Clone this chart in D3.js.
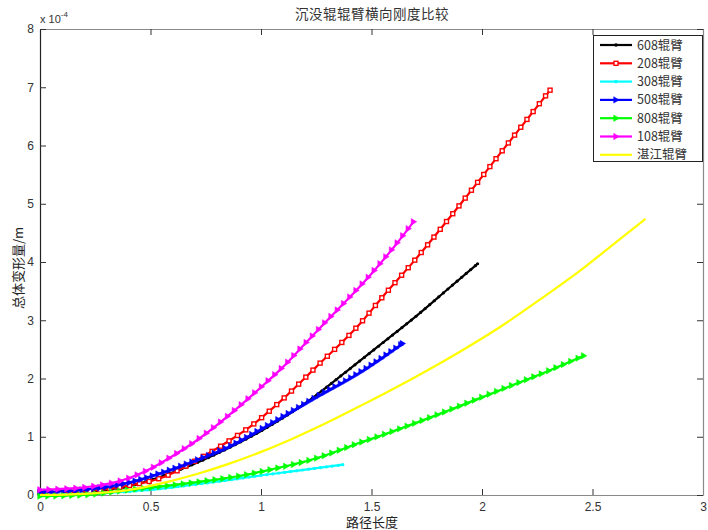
<!DOCTYPE html>
<html><head><meta charset="utf-8">
<script src="https://cdn.jsdelivr.net/npm/d3@7"></script>
<style>body{margin:0;background:#fff}svg{display:block}</style>
</head><body>
<svg id="c" width="708" height="530"></svg>
<script>
const seriesNames = ["608辊臂","208辊臂","308辊臂","508辊臂","808辊臂","108辊臂","湛江辊臂"];
const seriesColors = ["#000000","#ff0000","#00ffff","#0000ff","#00ff00","#ff00ff","#ffff00"];
const seriesMarkers = ["dot","square","dot","tri","tri","tri","none"];
// values: [path length, deformation (x1e-4 m)]
const s608 = [[0,0.02],[0.2,0.05],[0.4,0.15],[0.63,0.43],[0.86,0.82],[1.0,1.1],[1.22,1.63],[1.4,2.16],[1.6,2.76],[1.705,3.08],[1.85,3.55],[1.98,3.97]];
const s208 = [[0,0.04],[0.2,0.06],[0.4,0.16],[0.56,0.31],[0.7,0.58],[0.86,0.94],[0.95,1.17],[1.1,1.65],[1.25,2.2],[1.45,2.95],[1.55,3.4],[1.7,4.05],[1.91,5.03],[2.1,5.95],[2.308,6.95]];
const s308 = [[0,0],[0.2,0.02],[0.4,0.06],[0.5,0.09],[0.7,0.18],[0.86,0.26],[0.95,0.31],[1.15,0.41],[1.37,0.52]];
const s508 = [[0,0.05],[0.2,0.09],[0.41,0.22],[0.55,0.38],[0.71,0.6],[0.85,0.82],[1.01,1.15],[1.25,1.68],[1.45,2.11],[1.64,2.6]];
const s808 = [[0,-0.02],[0.2,0.0],[0.41,0.09],[0.71,0.22],[0.95,0.36],[1.0,0.4],[1.25,0.63],[1.45,0.9],[1.55,1.03],[1.8,1.38],[2.08,1.8],[2.3,2.13],[2.46,2.39]];
const s108 = [[0,0.09],[0.2,0.13],[0.41,0.3],[0.5,0.45],[0.6,0.67],[0.71,0.94],[0.8,1.2],[0.95,1.68],[1.0,1.85],[1.1,2.2],[1.2,2.6],[1.3,3.0],[1.39,3.35],[1.5,3.8],[1.6,4.25],[1.69,4.69]];
const sZJ = [[0,0],[0.2,0.02],[0.41,0.09],[0.55,0.2],[0.71,0.36],[0.85,0.53],[1.0,0.74],[1.15,0.98],[1.33,1.3],[1.45,1.53],[1.705,2.04],[1.9,2.46],[2.08,2.88],[2.26,3.35],[2.45,3.87],[2.59,4.29],[2.74,4.74]];
const allSeries = [s608,s208,s308,s508,s808,s108,sZJ];
const xTicks = [0,0.5,1,1.5,2,2.5,3];
const yTicks = [0,1,2,3,4,5,6,7,8];
const titleText = "沉没辊辊臂横向刚度比较";
const xLabel = "路径长度";
const yLabel = "总体变形量/m";

const svg = d3.select("#c");
const L=40,R=703,T=29,B=495;
const x = d3.scaleLinear().domain([0,3]).range([L,R]);
const y = d3.scaleLinear().domain([0,8]).range([B,T]);
const tickFont = "'Liberation Sans', Arial, sans-serif";
const cjk = "'Noto Sans CJK SC', sans-serif";

// axes
const gx = svg.append("g").attr("transform",`translate(0,${B})`)
  .call(d3.axisBottom(x).tickValues(xTicks).tickFormat(d3.format("")).tickSizeInner(-6).tickSizeOuter(0).tickPadding(7));
const gxt = svg.append("g").attr("transform",`translate(0,${T})`)
  .call(d3.axisTop(x).tickValues(xTicks).tickFormat("").tickSizeInner(-6).tickSizeOuter(0));
const gy = svg.append("g").attr("transform",`translate(${L},0)`)
  .call(d3.axisLeft(y).tickValues(yTicks).tickFormat(d3.format("d")).tickSizeInner(-6).tickSizeOuter(0).tickPadding(6));
const gyr = svg.append("g").attr("transform",`translate(${R},0)`)
  .call(d3.axisRight(y).tickValues(yTicks).tickFormat("").tickSizeInner(-6).tickSizeOuter(0));
[gx,gxt,gy,gyr].forEach(g=>{
  g.selectAll(".domain").attr("stroke","#8a8a8a").attr("stroke-width",1.2);
  g.selectAll(".tick line").attr("stroke","#333");
  g.selectAll("text").attr("font-family",tickFont).attr("font-size",12).attr("fill","#333");
});
gy.select(".domain").attr("stroke","#222");

// series
const line = d3.line().x(d=>x(d[0])).y(d=>y(d[1])).curve(d3.curveMonotoneX);
const spacing = [6,10,6,6,8,9,0];
const plot = svg.append("g");
allSeries.forEach((data,i)=>{
  const col = seriesColors[i];
  const p = plot.append("path").datum(data).attr("d",line).attr("fill","none")
    .attr("stroke",col).attr("stroke-width",2.2);
  const node = p.node();
  const len = node.getTotalLength();
  const m = seriesMarkers[i];
  if (m==="none") return;
  const pts = [];
  for (let s=0; s<=len; s+=spacing[i]) pts.push(node.getPointAtLength(s));
  pts.push(node.getPointAtLength(len));
  const g = plot.append("g");
  pts.forEach(pt=>drawMarker(g,m,pt.x,pt.y,col,false));
});

function drawMarker(g,m,px,py,col,legend){
  if (m==="dot") {
    g.append("circle").attr("cx",px).attr("cy",py).attr("r",legend?1.8:1.6).attr("fill",col);
  } else if (m==="square") {
    g.append("rect").attr("x",px-2).attr("y",py-2).attr("width",4).attr("height",4)
      .attr("fill","#fff").attr("stroke",col).attr("stroke-width",1.4);
  } else if (m==="tri") {
    g.append("path").attr("d",`M${px-2.3},${py-3.2}L${px+3.2},${py}L${px-2.3},${py+3.2}Z`)
      .attr("fill",col).attr("stroke",col).attr("stroke-width",0.5);
  }
}

// legend
const lg = svg.append("g");
lg.append("rect").attr("x",593.5).attr("y",35.5).attr("width",109).attr("height",126)
  .attr("fill","#fff").attr("stroke","#222").attr("stroke-width",1);
seriesNames.forEach((n,i)=>{
  const yy = 45 + i*18.3;
  lg.append("line").attr("x1",600).attr("x2",632).attr("y1",yy).attr("y2",yy)
    .attr("stroke",seriesColors[i]).attr("stroke-width",2.2);
  drawMarker(lg,seriesMarkers[i],616,yy,seriesColors[i],true);
  lg.append("text").attr("x",637).attr("y",yy+4.5).text(n)
    .attr("font-family",cjk).attr("font-size",12.5).attr("fill","#333");
});

// titles
svg.append("text").attr("x",372).attr("y",19).attr("text-anchor","middle").text(titleText)
  .attr("font-family",cjk).attr("font-size",13.5).attr("fill","#333").attr("letter-spacing",0.5);
svg.append("text").attr("x",372).attr("y",527).attr("text-anchor","middle").text(xLabel)
  .attr("font-family",cjk).attr("font-size",13).attr("fill","#222");
svg.append("text").attr("transform","translate(23,268) rotate(-90)").attr("text-anchor","middle").text(yLabel)
  .attr("font-family",cjk).attr("font-size",13).attr("fill","#222");
const ex = svg.append("text").attr("x",40).attr("y",23).attr("font-family",tickFont).attr("font-size",11).attr("fill","#333");
ex.append("tspan").text("x 10");
ex.append("tspan").attr("dy",-6).attr("font-size",8).text("-4");
</script>
</body></html>
